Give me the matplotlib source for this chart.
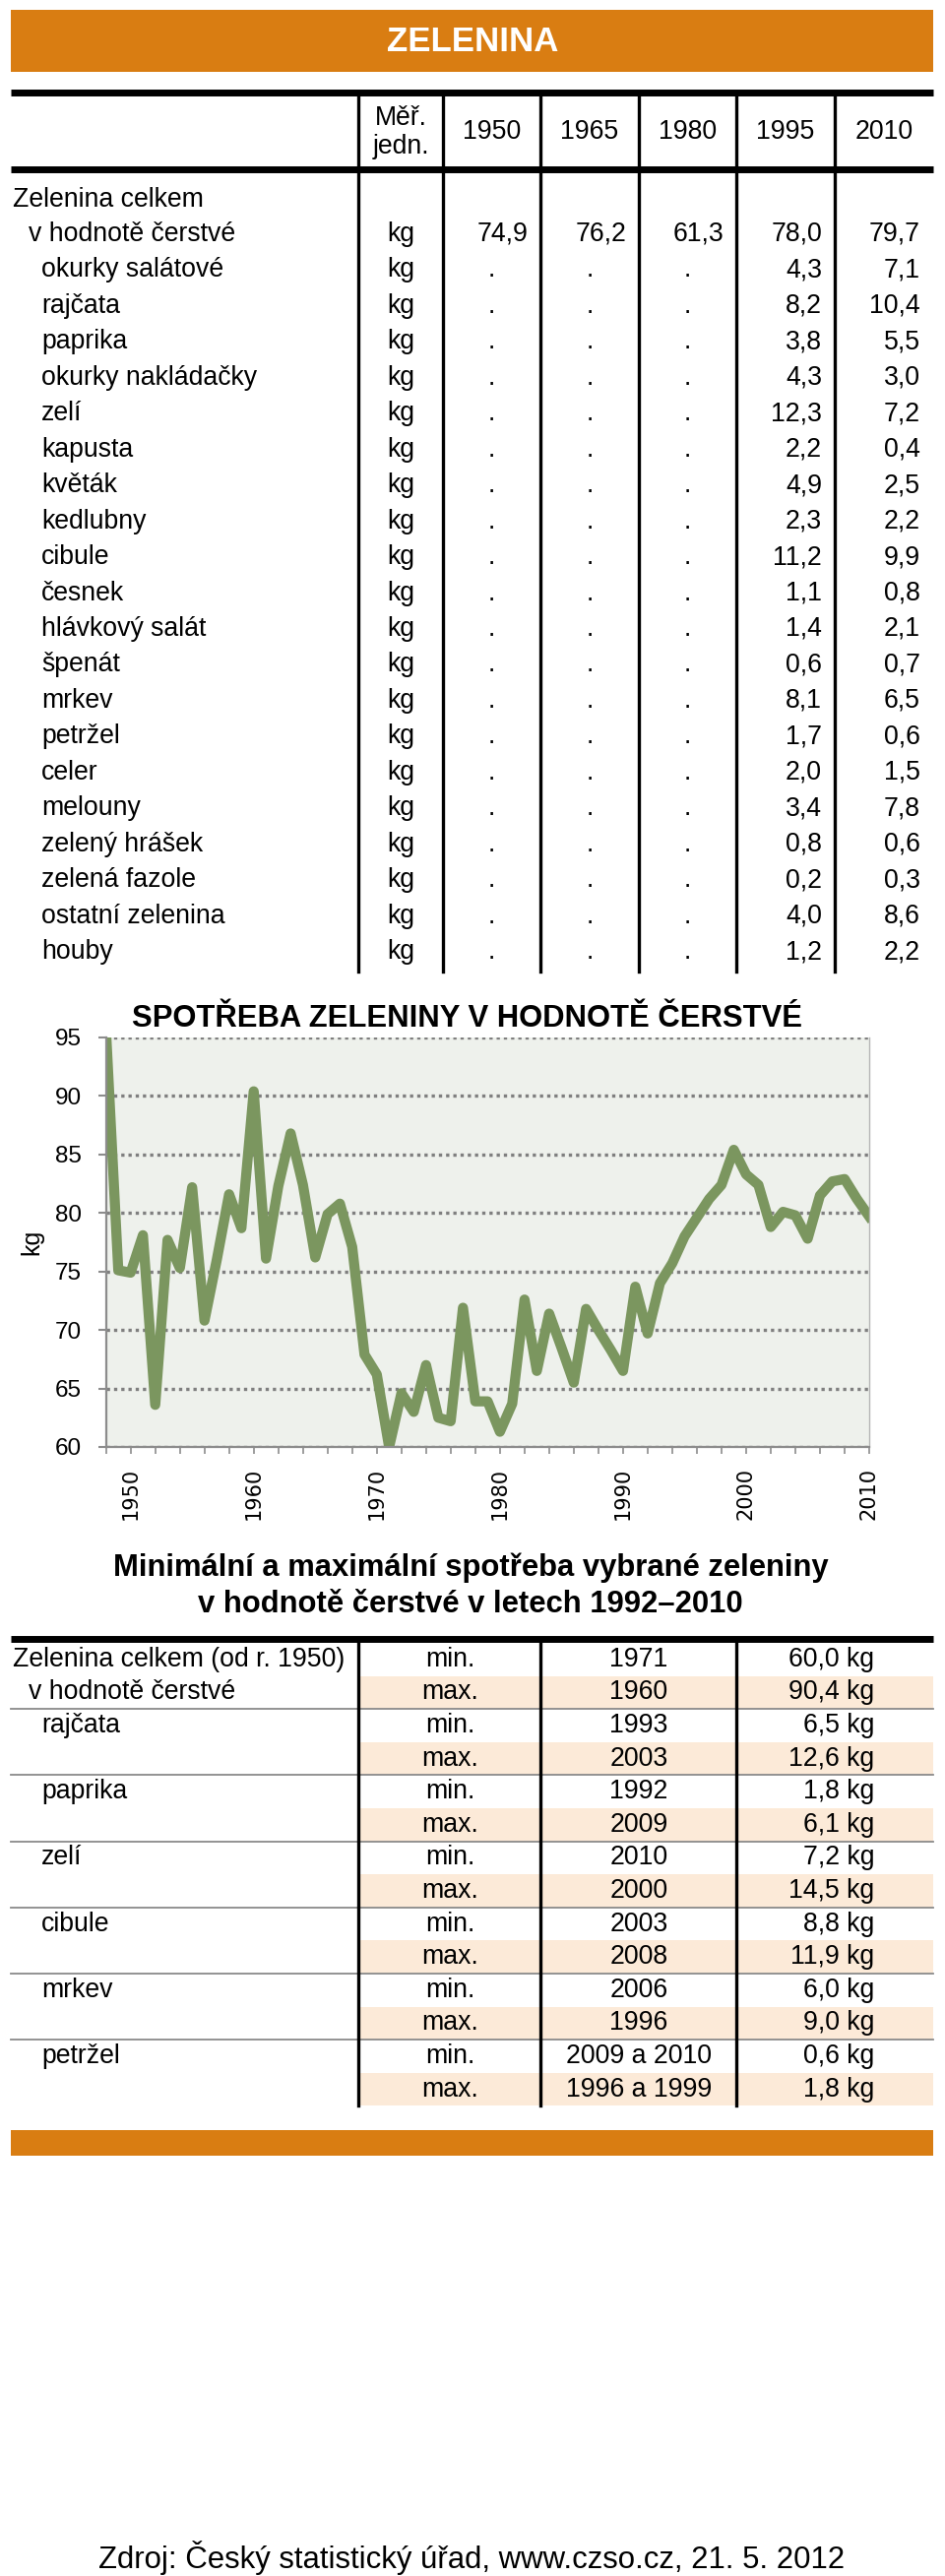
import matplotlib
matplotlib.use("Agg")
import matplotlib.pyplot as plt
from matplotlib.patches import Rectangle

plt.rcParams['font.family'] = ['Liberation Sans', 'DejaVu Sans']

# --- data -------------------------------------------------------------
years = list(range(1948, 2011))
consumption = [95.6, 75.1, 74.9, 78.1, 63.6, 77.7, 75.3, 82.2, 70.8, 76.0,
               81.6, 78.7, 90.4, 76.1, 82.3, 86.8, 82.4, 76.2, 79.9, 80.8,
               77.1, 67.9, 66.2, 60.0, 64.6, 63.0, 67.0, 62.5, 62.2, 71.9,
               63.9, 63.9, 61.3, 63.7, 72.6, 66.5, 71.4, 68.5, 65.5, 71.8,
               70.0, 68.3, 66.5, 73.7, 69.7, 74.0, 75.7, 78.0, 79.6, 81.2,
               82.4, 85.4, 83.3, 82.4, 78.8, 80.1, 79.8, 77.8, 81.5, 82.7,
               82.9, 81.2, 79.7]

table_years = ["1950", "1965", "1980", "1995", "2010"]
total_values = [74.9, 76.2, 61.3, 78.0, 79.7]
items = ["okurky salátové", "rajčata", "paprika", "okurky nakládačky", "zelí",
         "kapusta", "květák", "kedlubny", "cibule", "česnek", "hlávkový salát",
         "špenát", "mrkev", "petržel", "celer", "melouny", "zelený hrášek",
         "zelená fazole", "ostatní zelenina", "houby"]
items_1995 = [4.3, 8.2, 3.8, 4.3, 12.3, 2.2, 4.9, 2.3, 11.2, 1.1, 1.4, 0.6,
              8.1, 1.7, 2.0, 3.4, 0.8, 0.2, 4.0, 1.2]
items_2010 = [7.1, 10.4, 5.5, 3.0, 7.2, 0.4, 2.5, 2.2, 9.9, 0.8, 2.1, 0.7,
              6.5, 0.6, 1.5, 7.8, 0.6, 0.3, 8.6, 2.2]

mm_groups = ["Zelenina celkem (od r. 1950)", "rajčata", "paprika", "zelí",
             "cibule", "mrkev", "petržel"]
mm_min_years = ["1971", "1993", "1992", "2010", "2003", "2006", "2009 a 2010"]
mm_min_vals = [60.0, 6.5, 1.8, 7.2, 8.8, 6.0, 0.6]
mm_max_years = ["1960", "2003", "2009", "2000", "2008", "1996", "1996 a 1999"]
mm_max_vals = [90.4, 12.6, 6.1, 14.5, 11.9, 9.0, 1.8]

ORANGE = "#d97d12"
PEACH = "#fcead8"
GREEN = "#7b965f"


def cz(v):
    return f"{v:.1f}".replace(".", ",")


W, H = 960, 2617
fig = plt.figure(figsize=(W / 100, H / 100), dpi=100)
ov = fig.add_axes([0, 0, 1, 1])
ov.set_xlim(0, W)
ov.set_ylim(H, 0)
ov.axis("off")

FS = 19.2

# header bar
ov.add_patch(Rectangle((11, 10), 937, 63, color=ORANGE, lw=0))
ov.text(480, 42, "ZELENINA", color="white", fontsize=25, fontweight="bold",
        ha="center", va="center")

# --- top table --------------------------------------------------------
col_edges = [364, 450, 549, 649, 748, 848, 948]
ov.plot([11, 948], [93.5, 93.5], color="black", lw=5, solid_capstyle="butt")
ov.plot([11, 948], [171.5, 171.5], color="black", lw=5, solid_capstyle="butt")
for x in col_edges[:-1]:
    ov.plot([x, x], [97, 987], color="black", lw=2.4)

ov.text(407, 120, "Měř.", fontsize=FS, ha="center", va="center")
ov.text(407, 149, "jedn.", fontsize=FS, ha="center", va="center")
for i, yr in enumerate(table_years):
    cx = (col_edges[i + 1] + col_edges[i + 2]) / 2
    ov.text(cx, 134, yr, fontsize=FS, ha="center", va="center")

ov.text(13, 203, "Zelenina celkem", fontsize=FS, ha="left", va="center")
row0 = 238
step = 36.45
ov.text(29, row0, "v hodnotě čerstvé", fontsize=FS, ha="left", va="center")
ov.text(407, row0, "kg", fontsize=FS, ha="center", va="center")
for i, v in enumerate(total_values):
    ov.text(col_edges[i + 2] - 13, row0, cz(v), fontsize=FS, ha="right", va="center")

for r, name in enumerate(items):
    y = row0 + (r + 1) * step
    ov.text(42, y, name, fontsize=FS, ha="left", va="center")
    ov.text(407, y, "kg", fontsize=FS, ha="center", va="center")
    for i in range(3):
        cx = (col_edges[i + 1] + col_edges[i + 2]) / 2
        ov.text(cx, y, ".", fontsize=FS, ha="center", va="center")
    ov.text(col_edges[5] - 13, y, cz(items_1995[r]), fontsize=FS, ha="right", va="center")
    ov.text(col_edges[6] - 13, y, cz(items_2010[r]), fontsize=FS, ha="right", va="center")

# --- line chart -------------------------------------------------------
ax = fig.add_axes([107.67 / W, (H - 1470) / H, (883 - 107.67) / W, (1470 - 1054) / H])
ax.set_facecolor("#eef1ec")
ax.plot(years, consumption, color=GREEN, lw=7.4, solid_joinstyle="round")
ax.set_xlim(1948, 2010)
ax.set_ylim(60, 95)
ax.set_yticks(range(60, 96, 5))
ax.set_xticks(range(1948, 2011, 2))
ax.set_xticklabels([str(y) if y % 10 == 0 else "" for y in range(1948, 2011, 2)],
                   rotation=90, fontsize=15, family="DejaVu Sans")
ax.tick_params(axis="y", labelsize=17.5, length=6, width=1.5, color="#8c8c8c", pad=12)
ax.tick_params(axis="x", length=5, width=1.2, color="#8c8c8c", pad=10)
ax.yaxis.grid(True, linestyle=(0, (1, 1.2)), color="#7f7f7f", lw=2.4)
ax.set_axisbelow(True)
for s in ("left", "bottom"):
    ax.spines[s].set_color("#8c8c8c")
    ax.spines[s].set_linewidth(1.6)
ax.spines["right"].set_color("#b5b5b5")
ax.spines["right"].set_linewidth(1.0)
ax.spines["top"].set_visible(False)
ax.set_ylabel("kg", fontsize=18, labelpad=8)
ov.text(475, 1035, "SPOTŘEBA ZELENINY V HODNOTĚ ČERSTVÉ", fontsize=22.3,
        fontweight="bold", ha="center", va="center")

# --- min / max table --------------------------------------------------
ov.text(478, 1593, "Minimální a maximální spotřeba vybrané zeleniny", fontsize=22.3,
        fontweight="bold", ha="center", va="center")
ov.text(478, 1630, "v hodnotě čerstvé v letech 1992–2010", fontsize=22.3,
        fontweight="bold", ha="center", va="center")

top = 1669
rh = 33.6
ov.plot([11, 948], [1665, 1665], color="black", lw=5, solid_capstyle="butt")
for g, name in enumerate(mm_groups):
    y_min = top + (2 * g + 0.5) * rh
    y_max = top + (2 * g + 1.5) * rh
    ov.add_patch(Rectangle((364, top + (2 * g + 1) * rh), 584, rh, color=PEACH, lw=0))
    if g > 0:
        ov.plot([11, 948], [top + 2 * g * rh] * 2, color="#8a8a8a", lw=1.3)
        ov.text(42, y_min, name, fontsize=FS, ha="left", va="center")
    else:
        ov.text(13, y_min, name, fontsize=FS, ha="left", va="center")
        ov.text(29, y_max, "v hodnotě čerstvé", fontsize=FS, ha="left", va="center")
    ov.text(457, y_min, "min.", fontsize=FS, ha="center", va="center")
    ov.text(457, y_max, "max.", fontsize=FS, ha="center", va="center")
    ov.text(649, y_min, mm_min_years[g], fontsize=FS, ha="center", va="center")
    ov.text(649, y_max, mm_max_years[g], fontsize=FS, ha="center", va="center")
    ov.text(888, y_min, cz(mm_min_vals[g]) + " kg", fontsize=FS, ha="right", va="center")
    ov.text(888, y_max, cz(mm_max_vals[g]) + " kg", fontsize=FS, ha="right", va="center")

bottom = top + 14 * rh
for x in (364, 549, 748):
    ov.plot([x, x], [1668, bottom], color="black", lw=2.4)

ov.add_patch(Rectangle((11, 2164), 937, 26, color=ORANGE, lw=0))

ov.text(479, 2598, "Zdroj: Český statistický úřad, www.czso.cz, 21. 5. 2012",
        fontsize=22.4, ha="center", va="center")

fig.savefig("out.png", dpi=100)
